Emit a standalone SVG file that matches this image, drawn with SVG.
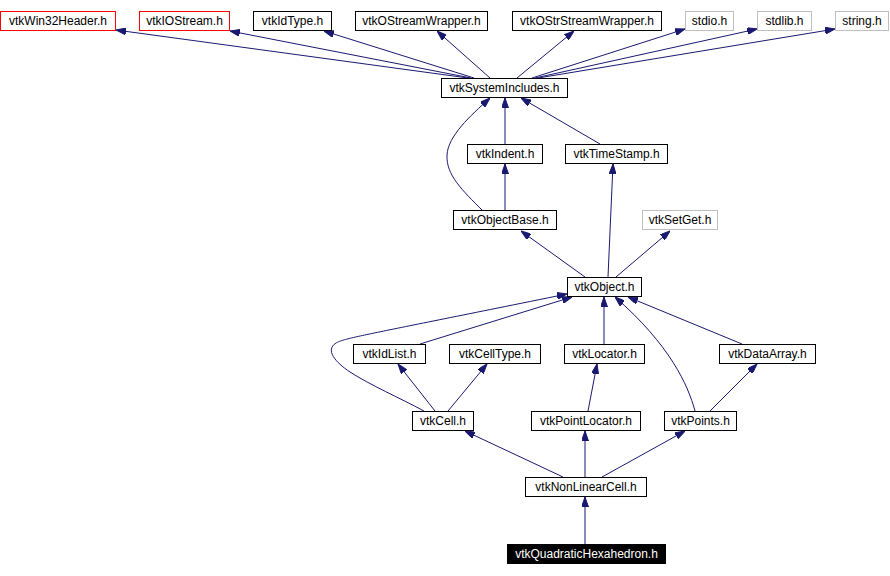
<svg xmlns="http://www.w3.org/2000/svg" width="890" height="576" viewBox="0 0 890 576">
<defs>
<style>
.n rect{fill:#fff;stroke:#000;stroke-width:1}
.n.red rect{stroke:#ff0000}
.n.gray rect{stroke:#bfbfbf}
.n.cur rect{fill:#000;stroke:#000}
.n text{font-family:"Liberation Sans",Arial,sans-serif;font-size:12px;text-anchor:middle;fill:#000}
.n.cur text{fill:#fff}
#edges path{fill:none;stroke:#191970;stroke-width:1;marker-end:url(#ah)}
</style>
<marker id="ah" viewBox="0 0 10 7" refX="10" refY="3.5" markerWidth="10" markerHeight="7" markerUnits="userSpaceOnUse" orient="auto">
<path d="M0,0 L10,3.5 L0,7 z" fill="#191970" stroke="#191970" stroke-width="1"/>
</marker>
</defs>
<rect width="890" height="576" fill="#fff"/>
<g id="edges">
<path d="M468,78 L116,30"/>
<path d="M471,78 L230,31"/>
<path d="M474,78 L324,31"/>
<path d="M490,78 L437,31"/>
<path d="M517,78 L574,31"/>
<path d="M532,78 L685,29"/>
<path d="M535,78 L757,29"/>
<path d="M538,78 L835,29"/>
<path d="M483,211 C462,190 446,175 447,155 C448,136 470,116 490,98"/>
<path d="M505,144 L505,98"/>
<path d="M600,144 L521,98"/>
<path d="M505,210 L505,164"/>
<path d="M585,277 L521,231"/>
<path d="M608,277 L613,164"/>
<path d="M616,277 L670,231"/>
<path d="M424,411 C400,398 370,385 350,372 C335,362 325,350 336,343 C345,338 360,336 567,294"/>
<path d="M420,344 L572,297"/>
<path d="M604,344 L604,297"/>
<path d="M695,411 C688,385 670,345 615,297"/>
<path d="M742,344 L628,297"/>
<path d="M435,411 L398,364"/>
<path d="M448,411 L487,364"/>
<path d="M588,411 L597,364"/>
<path d="M710,411 L757,364"/>
<path d="M563,477 L465,431"/>
<path d="M585,477 L585,431"/>
<path d="M602,477 L685,431"/>
<path d="M585,544 L585,497"/>
</g>
<g id="vtkWin32Header" class="n red"><rect x="0.5" y="11.5" width="115" height="19"/><text x="58" y="25">vtkWin32Header.h</text></g>
<g id="vtkIOStream" class="n red"><rect x="139.5" y="11.5" width="90" height="19"/><text x="184.5" y="25">vtkIOStream.h</text></g>
<g id="vtkIdType" class="n"><rect x="253.5" y="11.5" width="78" height="19"/><text x="292.5" y="25">vtkIdType.h</text></g>
<g id="vtkOStreamWrapper" class="n"><rect x="355.5" y="11.5" width="132" height="19"/><text x="421.5" y="25">vtkOStreamWrapper.h</text></g>
<g id="vtkOStrStreamWrapper" class="n"><rect x="512.5" y="11.5" width="149" height="19"/><text x="587" y="25">vtkOStrStreamWrapper.h</text></g>
<g id="stdio" class="n gray"><rect x="685.5" y="11.5" width="48" height="19"/><text x="709.5" y="25">stdio.h</text></g>
<g id="stdlib" class="n gray"><rect x="757.5" y="11.5" width="54" height="19"/><text x="784.5" y="25">stdlib.h</text></g>
<g id="string" class="n gray"><rect x="835.5" y="11.5" width="53" height="19"/><text x="862" y="25">string.h</text></g>
<g id="vtkSystemIncludes" class="n"><rect x="441.5" y="78.5" width="126" height="19"/><text x="504.5" y="92">vtkSystemIncludes.h</text></g>
<g id="vtkIndent" class="n"><rect x="467.5" y="144.5" width="75" height="19"/><text x="505" y="158">vtkIndent.h</text></g>
<g id="vtkTimeStamp" class="n"><rect x="565.5" y="144.5" width="102" height="19"/><text x="616.5" y="158">vtkTimeStamp.h</text></g>
<g id="vtkObjectBase" class="n"><rect x="453.5" y="210.5" width="103" height="19"/><text x="505" y="224">vtkObjectBase.h</text></g>
<g id="vtkSetGet" class="n gray"><rect x="642.5" y="210.5" width="75" height="19"/><text x="680" y="224">vtkSetGet.h</text></g>
<g id="vtkObject" class="n"><rect x="567.5" y="277.5" width="74" height="19"/><text x="604.5" y="291">vtkObject.h</text></g>
<g id="vtkIdList" class="n"><rect x="353.5" y="344.5" width="72" height="19"/><text x="389.5" y="358">vtkIdList.h</text></g>
<g id="vtkCellType" class="n"><rect x="449.5" y="344.5" width="91" height="19"/><text x="495" y="358">vtkCellType.h</text></g>
<g id="vtkLocator" class="n"><rect x="564.5" y="344.5" width="80" height="19"/><text x="604.5" y="358">vtkLocator.h</text></g>
<g id="vtkDataArray" class="n"><rect x="719.5" y="344.5" width="96" height="19"/><text x="767.5" y="358">vtkDataArray.h</text></g>
<g id="vtkCell" class="n"><rect x="412.5" y="411.5" width="61" height="19"/><text x="443" y="425">vtkCell.h</text></g>
<g id="vtkPointLocator" class="n"><rect x="531.5" y="411.5" width="109" height="19"/><text x="586" y="425">vtkPointLocator.h</text></g>
<g id="vtkPoints" class="n"><rect x="664.5" y="411.5" width="72" height="19"/><text x="700.5" y="425">vtkPoints.h</text></g>
<g id="vtkNonLinearCell" class="n"><rect x="525.5" y="477.5" width="121" height="19"/><text x="586" y="491">vtkNonLinearCell.h</text></g>
<g id="vtkQuadraticHexahedron" class="n cur"><rect x="507.5" y="544.5" width="158" height="19"/><text x="586.5" y="558">vtkQuadraticHexahedron.h</text></g>
</svg>
